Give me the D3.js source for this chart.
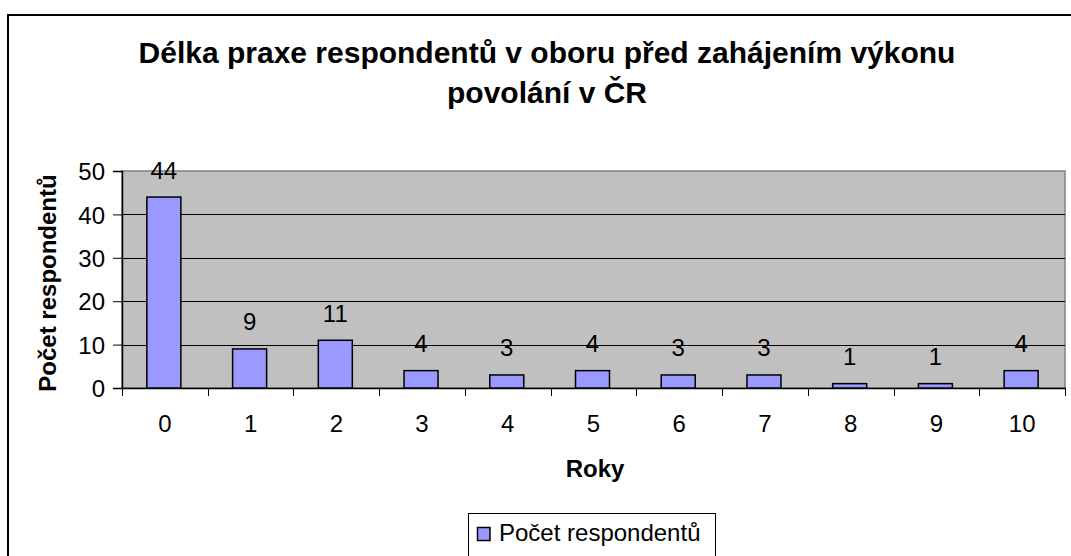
<!DOCTYPE html>
<html>
<head>
<meta charset="utf-8">
<script src="https://cdn.jsdelivr.net/npm/d3@7"></script>
<style>
  body { margin: 0; background: #fff; }
  svg text { font-family: Arial, "Liberation Sans", sans-serif; fill: #000; }
</style>
</head>
<body>
<div class="drawingArea"></div>
<script>
// data
var years = ["0", "1", "2", "3", "4", "5", "6", "7", "8", "9", "10"];
var counts = [44, 9, 11, 4, 3, 4, 3, 3, 1, 1, 4];
var yTicks = [0, 10, 20, 30, 40, 50];
var titleLines = ["Délka praxe respondentů v oboru před zahájením výkonu", "povolání v ČR"];
var seriesName = "Počet respondentů";

var width = 1071;
var height = 556;

//plot area
var plotLeft = 122, plotRight = 1065, plotTop = 171, plotBottom = 388;

var svg = d3.select(".drawingArea").append("svg:svg")
    .attr("width", width)
    .attr("height", height);

// outer frame (runs off the right and bottom edge)
svg.append("rect")
    .attr("x", 8)
    .attr("y", 15)
    .attr("width", 1200)
    .attr("height", 700)
    .attr("fill", "#fff")
    .attr("stroke", "#000")
    .attr("stroke-width", 2);

// title
svg.append("g").selectAll("text")
    .data(titleLines)
    .enter().append("text")
    .attr("x", 547)
    .attr("y", function(d, i) { return 63 + i * 40; })
    .attr("text-anchor", "middle")
    .style("font-size", "30px")
    .style("font-weight", "bold")
    .text(function(d) { return d; });

var x = d3.scaleBand()
    .domain(years)
    .range([plotLeft, plotRight]);

var y = d3.scaleLinear()
    .domain([0, 50])
    .range([plotBottom, plotTop]);

// plot background
svg.append("rect")
    .attr("x", plotLeft)
    .attr("y", plotTop)
    .attr("width", plotRight - plotLeft)
    .attr("height", plotBottom - plotTop)
    .attr("fill", "#c0c0c0")
    .attr("stroke", "#808080")
    .attr("stroke-width", 1.5);

// gridlines
svg.append("g").selectAll("line")
    .data(yTicks.filter(function(d) { return d > 0 && d < 50; }))
    .enter().append("line")
    .attr("x1", plotLeft)
    .attr("x2", plotRight)
    .attr("y1", function(d) { return Math.round(y(d)) + 0.5; })
    .attr("y2", function(d) { return Math.round(y(d)) + 0.5; })
    .attr("stroke", "#000")
    .attr("stroke-width", 1);

// y axis
var yAxis = svg.append("g")
    .attr("transform", "translate(" + plotLeft + ",0)")
    .call(d3.axisLeft(y).tickValues(yTicks).tickSize(9).tickPadding(8));
yAxis.selectAll("text").style("font-size", "24px").attr("dy", "0.36em");

// x axis
var xAxis = svg.append("g")
    .attr("transform", "translate(0," + plotBottom + ")")
    .call(d3.axisBottom(x).tickSize(0).tickPadding(27));
xAxis.selectAll("text").style("font-size", "24px");
// tick marks sit between categories
svg.append("g").selectAll("line")
    .data(years.concat(["end"]))
    .enter().append("line")
    .attr("x1", function(d, i) { return Math.round(plotLeft + i * x.step()) + 0.5; })
    .attr("x2", function(d, i) { return Math.round(plotLeft + i * x.step()) + 0.5; })
    .attr("y1", plotBottom)
    .attr("y2", plotBottom + 8)
    .attr("stroke", "#000");

svg.selectAll(".domain").attr("stroke", "#000").attr("stroke-width", 1.5);
svg.selectAll(".tick line").attr("stroke", "#000");

// bars
var barWidth = 34;
svg.append("g").selectAll("rect")
    .data(counts)
    .enter().append("rect")
    .attr("x", function(d, i) { return x(years[i]) + x.bandwidth() / 2 - barWidth / 2 - 1; })
    .attr("y", function(d) { return y(d); })
    .attr("width", barWidth)
    .attr("height", function(d) { return plotBottom - y(d); })
    .attr("fill", "#9999ff")
    .attr("stroke", "#000")
    .attr("stroke-width", 1.5);

// value labels
svg.append("g").selectAll("text")
    .data(counts)
    .enter().append("text")
    .attr("x", function(d, i) { return x(years[i]) + x.bandwidth() / 2 - 1; })
    .attr("y", function(d) { return y(d) - 18.5; })
    .attr("text-anchor", "middle")
    .style("font-size", "24px")
    .text(function(d) { return d; });

// axis titles
svg.append("text")
    .attr("transform", "translate(56,283) rotate(-90)")
    .attr("text-anchor", "middle")
    .style("font-size", "24px")
    .style("font-weight", "bold")
    .text(seriesName);

svg.append("text")
    .attr("x", 595)
    .attr("y", 477)
    .attr("text-anchor", "middle")
    .style("font-size", "24px")
    .style("font-weight", "bold")
    .text("Roky");

// legend
var legend = svg.append("g");
legend.append("rect")
    .attr("x", 468.5)
    .attr("y", 513.5)
    .attr("width", 247)
    .attr("height", 80)
    .attr("fill", "#fff")
    .attr("stroke", "#000");
legend.append("rect")
    .attr("x", 477.5)
    .attr("y", 527.5)
    .attr("width", 12.5)
    .attr("height", 13)
    .attr("fill", "#9999ff")
    .attr("stroke", "#000")
    .attr("stroke-width", 1.5);
legend.append("text")
    .attr("x", 499)
    .attr("y", 541)
    .style("font-size", "24px")
    .text(seriesName);
</script>
</body>
</html>
